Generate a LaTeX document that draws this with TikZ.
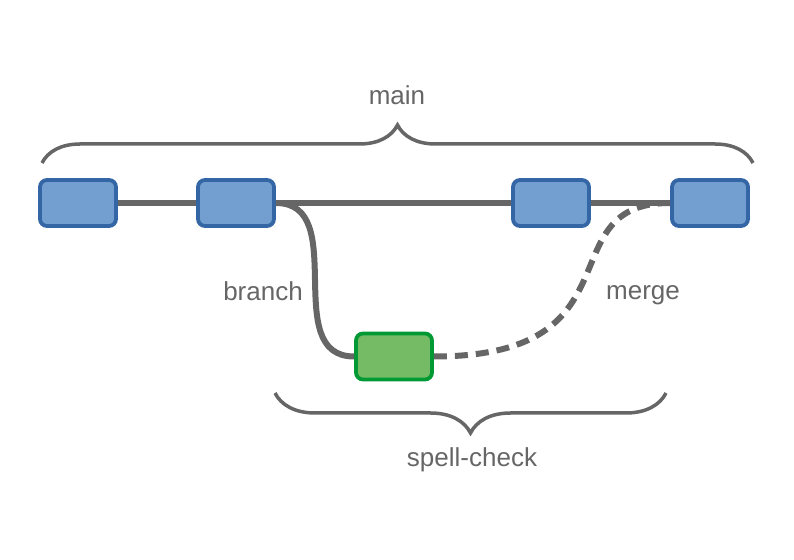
\documentclass[tikz,border=0pt]{standalone}
\usepackage{fontspec}
\setmainfont{Liberation Sans}
\usetikzlibrary{decorations.pathreplacing}
\definecolor{linegray}{RGB}{102,102,102}
\definecolor{commitfill}{RGB}{114,159,207}
\definecolor{commitdraw}{RGB}{52,101,164}
\definecolor{spellfill}{RGB}{117,187,101}
\definecolor{spelldraw}{RGB}{0,153,51}
\begin{document}
\begin{tikzpicture}[x=1pt, y=1pt,
    commit/.style={draw=commitdraw, fill=commitfill, line width=3.8pt, rounded corners=7pt,
        minimum width=76pt, minimum height=46pt, inner sep=0pt},
    spell/.style={commit, draw=spelldraw, fill=spellfill},
    link/.style={linegray, line width=6pt},
    brc/.style={linegray, line width=3.5pt, decorate, decoration={brace, amplitude=38pt}},
    lbl/.style={text=linegray, font=\fontsize{26}{30}\selectfont, anchor=base}]
\useasboundingbox (0,0) rectangle (794,559);

\node[commit] (c1) at (78,356) {};
\node[commit] (c2) at (236,356) {};
\node[commit] (c3) at (551,356) {};
\node[commit] (c4) at (710,356) {};
\node[spell] (sp) at (394,202.5) {};

\draw[link] (c1.east)--(c2.west) (c2.east)--(c3.west) (c3.east)--(c4.west);
\draw[link] (c2.east) .. controls +(75,0) and +(-75,0) .. (sp.west);
\draw[link, dash pattern=on 13pt off 8pt] (sp.east) .. controls +(210,0) and +(-124,0) .. (c4.west);

\draw[brc] (42,396)--(753,396);
\draw[brc, decoration={amplitude=40pt}] (666,166)--(275,166);

\node[lbl] (mainlbl) at (397,454) {main};
\node[lbl] (spelllbl) at (472,92) {spell-check};
\node[lbl] (branchlbl) at (263,258) {branch};
\node[lbl] (mergelbl) at (643,259) {merge};

\end{tikzpicture}
\end{document}
